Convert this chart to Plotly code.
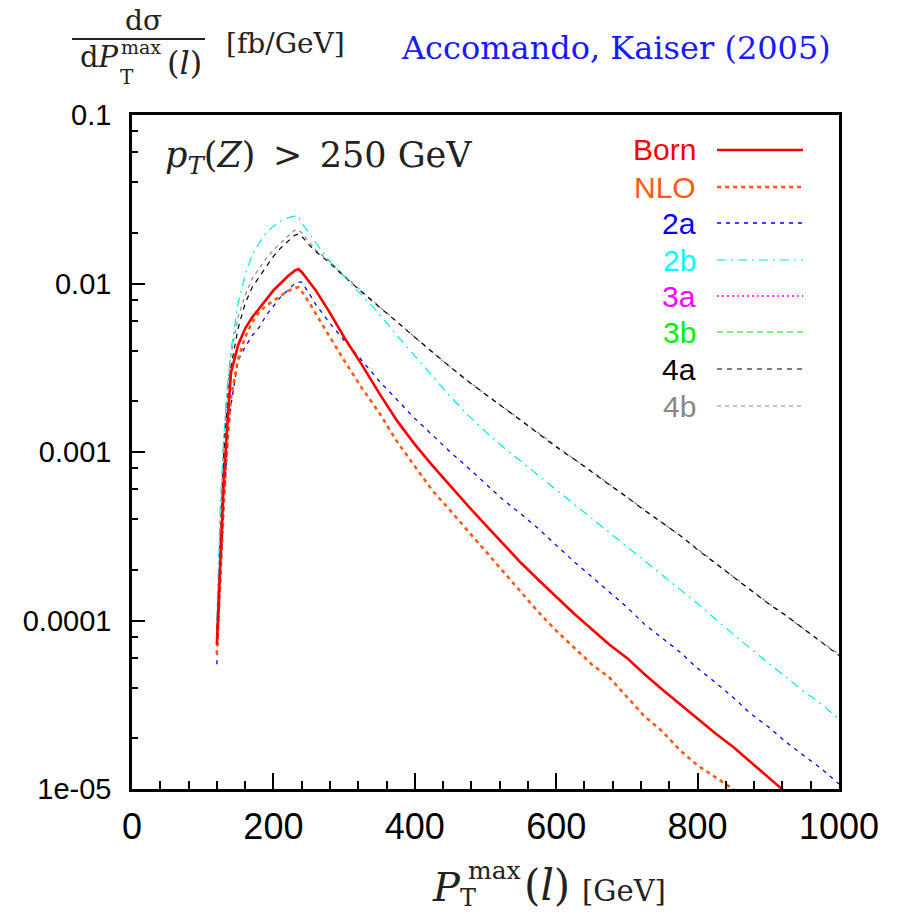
import plotly.graph_objects as go

# ---------------- data ----------------
pt = [120, 125, 130, 135, 140, 150, 160, 170, 180, 190, 200, 210, 220, 230, 235, 240,
      250, 260, 280, 300, 325, 350, 375, 400, 425, 450, 475, 500, 525, 550, 575, 600,
      625, 650, 675, 700, 725, 750, 775, 800, 825, 850, 875, 900, 925, 950, 975, 1000]

born = [7.2e-5, 2.5e-4, 7.1e-4, 1.5e-3, 2.95e-3, 4.3e-3, 5.4e-3, 6.3e-3, 7.1e-3, 8.1e-3,
        9.1e-3, 0.0100, 0.0110, 0.0119, 0.0122, 0.0117, 0.0104, 0.0091, 0.0067, 0.0048,
        0.0033, 2.22e-3, 1.53e-3, 1.11e-3, 8.3e-4, 6.3e-4, 4.8e-4, 3.7e-4, 2.85e-4, 2.2e-4,
        1.74e-4, 1.38e-4, 1.10e-4, 8.9e-5, 7.2e-5, 6.0e-5, 4.8e-5, 3.9e-5, 3.2e-5, 2.6e-5,
        2.14e-5, 1.78e-5, 1.45e-5, 1.17e-5, 9.5e-6, 7.8e-6, 6.3e-6, 5.1e-6]

nlo = [6.3e-5, 1.78e-4, 5.0e-4, 1.12e-3, 2.1e-3, 3.55e-3, 4.8e-3, 5.9e-3, 6.8e-3, 7.4e-3,
       7.9e-3, 8.5e-3, 9.0e-3, 9.4e-3, 9.5e-3, 9.0e-3, 7.8e-3, 6.6e-3, 4.8e-3, 3.5e-3,
       2.4e-3, 1.70e-3, 1.15e-3, 8.3e-4, 5.9e-4, 4.5e-4, 3.4e-4, 2.6e-4, 1.95e-4, 1.48e-4,
       1.12e-4, 8.7e-5, 6.9e-5, 5.5e-5, 4.6e-5, 3.55e-5, 2.7e-5, 2.2e-5, 1.7e-5, 1.38e-5,
       1.17e-5, 1.0e-5, 8.0e-6, 6.3e-6, 5.0e-6, 4.0e-6, 3.2e-6, 2.5e-6]

s2a = [5.5e-5, 1.78e-4, 5.0e-4, 1.12e-3, 1.9e-3, 3.5e-3, 4.2e-3, 4.9e-3, 5.5e-3, 6.5e-3,
       7.4e-3, 8.3e-3, 9.1e-3, 0.0100, 0.0102, 0.0102, 8.8e-3, 7.5e-3, 5.8e-3, 4.6e-3,
       3.5e-3, 2.63e-3, 2.04e-3, 1.58e-3, 1.26e-3, 1.0e-3, 8.1e-4, 6.5e-4, 5.2e-4, 4.3e-4,
       3.5e-4, 2.8e-4, 2.24e-4, 1.82e-4, 1.48e-4, 1.2e-4, 9.5e-5, 7.9e-5, 6.5e-5, 5.2e-5,
       4.3e-5, 3.5e-5, 2.8e-5, 2.34e-5, 1.9e-5, 1.58e-5, 1.32e-5, 1.07e-5]

s2b = [1.0e-4, 5.0e-4, 1.26e-3, 2.5e-3, 4.0e-3, 7.6e-3, 0.0112, 0.0148, 0.0174, 0.0200,
       0.0219, 0.0234, 0.0245, 0.0251, 0.0251, 0.0229, 0.0200, 0.0174, 0.0135, 0.0110,
       8.5e-3, 6.6e-3, 4.9e-3, 3.7e-3, 2.8e-3, 2.14e-3, 1.66e-3, 1.32e-3, 1.07e-3, 8.8e-4,
       7.25e-4, 6.0e-4, 4.95e-4, 4.07e-4, 3.35e-4, 2.75e-4, 2.27e-4, 1.86e-4, 1.53e-4, 1.26e-4,
       1.02e-4, 8.3e-5, 6.8e-5, 5.6e-5, 4.6e-5, 3.8e-5, 3.2e-5, 2.6e-5]

s3a = [7.2e-5, 2.5e-4, 7.1e-4, 1.5e-3, 2.95e-3, 4.3e-3, 5.4e-3, 6.3e-3, 7.1e-3, 8.1e-3,
       9.2e-3, 0.0101, 0.0111, 0.0120, 0.0123, 0.0118, 0.0104, 0.0091, 0.0067, 0.0048,
       0.0033, 2.22e-3, 1.53e-3, 1.11e-3, 8.3e-4, 6.3e-4, 4.8e-4, 3.7e-4, 2.85e-4, 2.2e-4,
       1.74e-4, 1.38e-4, 1.10e-4, 8.9e-5, 7.2e-5, 6.0e-5, 4.8e-5, 3.9e-5, 3.2e-5, 2.6e-5,
       2.14e-5, 1.78e-5, 1.45e-5, 1.17e-5, 9.5e-6, 7.8e-6, 6.3e-6, 5.1e-6]

s3b = [7.1e-5, 2.5e-4, 7.0e-4, 1.5e-3, 2.9e-3, 4.3e-3, 5.4e-3, 6.3e-3, 7.0e-3, 8.0e-3,
       9.0e-3, 9.9e-3, 0.0109, 0.0118, 0.0121, 0.0116, 0.0103, 0.0090, 0.0066, 0.0048,
       0.0033, 2.22e-3, 1.53e-3, 1.11e-3, 8.3e-4, 6.3e-4, 4.8e-4, 3.7e-4, 2.85e-4, 2.2e-4,
       1.74e-4, 1.38e-4, 1.10e-4, 8.9e-5, 7.2e-5, 6.0e-5, 4.8e-5, 3.9e-5, 3.2e-5, 2.6e-5,
       2.14e-5, 1.78e-5, 1.45e-5, 1.17e-5, 9.5e-6, 7.8e-6, 6.3e-6, 5.1e-6]

s4a = [7.9e-5, 3.2e-4, 1.0e-3, 2.0e-3, 3.2e-3, 5.4e-3, 7.6e-3, 9.5e-3, 0.0110, 0.0126,
       0.0145, 0.0162, 0.0178, 0.0193, 0.0197, 0.0191, 0.0170, 0.0155, 0.0132, 0.0110,
       8.9e-3, 7.2e-3, 5.9e-3, 4.8e-3, 3.9e-3, 3.2e-3, 2.63e-3, 2.19e-3, 1.84e-3, 1.54e-3,
       1.29e-3, 1.07e-3, 9.1e-4, 7.6e-4, 6.4e-4, 5.4e-4, 4.5e-4, 3.8e-4, 3.2e-4, 2.63e-4,
       2.19e-4, 1.82e-4, 1.51e-4, 1.26e-4, 1.07e-4, 8.9e-5, 7.4e-5, 6.2e-5]

s4b = [8.9e-5, 4.0e-4, 1.2e-3, 2.4e-3, 3.8e-3, 6.3e-3, 8.5e-3, 0.0107, 0.0123, 0.0141,
       0.0158, 0.0174, 0.0190, 0.0207, 0.0209, 0.0200, 0.0178, 0.0158, 0.0135, 0.0112,
       9.0e-3, 7.3e-3, 5.9e-3, 4.8e-3, 3.9e-3, 3.2e-3, 2.65e-3, 2.2e-3, 1.85e-3, 1.55e-3,
       1.30e-3, 1.08e-3, 9.1e-4, 7.7e-4, 6.45e-4, 5.4e-4, 4.5e-4, 3.8e-4, 3.2e-4, 2.65e-4,
       2.2e-4, 1.82e-4, 1.52e-4, 1.27e-4, 1.07e-4, 8.9e-5, 7.5e-5, 6.3e-5]

series_names = ["Born", "NLO", "2a", "2b", "3a", "3b", "4a", "4b"]
x_tickvals = [0, 200, 400, 600, 800, 1000]
y_tickvals = [1e-5, 1e-4, 1e-3, 1e-2, 1e-1]
y_ticktext = ["1e-05", "0.0001", "0.001", "0.01", "0.1"]
y_minorvals = [m * d for d in [1e-5, 1e-4, 1e-3, 1e-2] for m in (2, 4, 6, 8)]

# ---------------- styles ----------------
styles = {
    "Born": dict(color="#ff0000", width=2.6, dash="solid"),
    "NLO": dict(color="#ff5a14", width=2.6, dash="4px,4px"),
    "2a": dict(color="#0000ff", width=1.3, dash="4px,5px"),
    "2b": dict(color="#00e8e8", width=1.2, dash="9px,5px,2px,5px"),
    "3a": dict(color="#ff00ff", width=1.4, dash="2px,3px"),
    "3b": dict(color="#00e000", width=1.2, dash="6px,4px"),
    "4a": dict(color="#000000", width=1.2, dash="5px,5px"),
    "4b": dict(color="#888888", width=1.2, dash="4px,4px"),
}
text_colors = {"Born": "#ff0000", "NLO": "#ff5a14", "2a": "#0000ff", "2b": "#00ffff",
               "3a": "#ff00ff", "3b": "#00ee00", "4a": "#000000", "4b": "#888888"}
data = {"Born": born, "NLO": nlo, "2a": s2a, "2b": s2b, "3a": s3a, "3b": s3b,
        "4a": s4a, "4b": s4b}

fig = go.Figure()
for name in ["4b", "4a", "3b", "3a", "2b", "2a", "NLO", "Born"]:
    fig.add_trace(go.Scatter(x=pt, y=data[name], mode="lines", name=name,
                             line=styles[name], showlegend=False))

W, H = 903, 915
L, R, T, B = 132, 839, 115, 789


def px(xp):
    return (xp - L) / (R - L)


def py(yp):
    return (B - yp) / (B - T)


serif = "DejaVu Serif"
sans = "Liberation Sans, Arial"
ink = "#222222"
ann = []
shapes = []

# legend (text on the left, sample line on the right)
rows = [150, 187, 223, 260, 296, 332, 369, 406]
for name, yy in zip(series_names, rows):
    ann.append(dict(text=name, x=px(698), y=py(yy), xanchor="right", yanchor="middle",
                    font=dict(family=sans, size=30, color=text_colors[name])))
    st = styles[name]
    shapes.append(dict(type="line", xref="paper", yref="paper",
                       x0=px(717), x1=px(803), y0=py(yy), y1=py(yy),
                       line=dict(color=st["color"], width=st["width"], dash=st["dash"])))

# inner label
ann.append(dict(text="<i>p</i><sub><i>T</i></sub>(<i>Z</i>)\u2002&gt;\u2002250 GeV",
                x=px(163), y=py(157), xanchor="left", yanchor="middle",
                font=dict(family=serif, size=35, color=ink)))

# y-axis label as a fraction
ann += [
    dict(text="dσ", x=px(143), y=py(21), xanchor="center", yanchor="middle",
         font=dict(family=serif, size=28, color=ink)),
    dict(text="d<i>P</i>", x=px(121), y=py(57), xanchor="right", yanchor="middle",
         font=dict(family=serif, size=29, color=ink)),
    dict(text="max", x=px(119), y=py(47), xanchor="left", yanchor="middle",
         font=dict(family=serif, size=19, color=ink)),
    dict(text="T", x=px(118), y=py(77), xanchor="left", yanchor="middle",
         font=dict(family=serif, size=20, color=ink)),
    dict(text="(<i>l</i>)", x=px(165), y=py(63), xanchor="left", yanchor="middle",
         font=dict(family=serif, size=32, color=ink)),
    dict(text="[fb/GeV]", x=px(285), y=py(43), xanchor="center", yanchor="middle",
         font=dict(family=serif, size=28, color=ink)),
    dict(text="Accomando, Kaiser (2005)", x=px(616), y=py(48), xanchor="center",
         yanchor="middle", font=dict(family=serif, size=32, color="#1a1aff")),
]
shapes.append(dict(type="line", xref="paper", yref="paper", x0=px(72), x1=px(205),
                   y0=py(39), y1=py(39), line=dict(color=ink, width=2)))

# x-axis title
ann += [
    dict(text="<i>P</i>", x=px(446), y=py(887), xanchor="center", yanchor="middle",
         font=dict(family=serif, size=40, color=ink)),
    dict(text="max", x=px(466), y=py(870), xanchor="left", yanchor="middle",
         font=dict(family=serif, size=25, color=ink)),
    dict(text="T", x=px(458), y=py(898), xanchor="left", yanchor="middle",
         font=dict(family=serif, size=24, color=ink)),
    dict(text="(<i>l</i>)", x=px(522), y=py(885), xanchor="left", yanchor="middle",
         font=dict(family=serif, size=42, color=ink)),
    dict(text="[GeV]", x=px(580), y=py(891), xanchor="left", yanchor="middle",
         font=dict(family=serif, size=29, color=ink)),
]
for a in ann:
    a.setdefault("xref", "paper")
    a.setdefault("yref", "paper")
    a.setdefault("showarrow", False)

fig.update_layout(
    width=W, height=H,
    margin=dict(l=L, r=W - R, t=T, b=H - B),
    paper_bgcolor="white", plot_bgcolor="white",
    annotations=ann, shapes=shapes, showlegend=False,
    xaxis=dict(range=[0, 1000], tickmode="array", tickvals=x_tickvals,
               ticks="inside", ticklen=16, tickwidth=2, tickcolor="black",
               minor=dict(tickmode="linear", tick0=0, dtick=40, ticks="inside",
                          ticklen=8, tickwidth=2, tickcolor="black"),
               showline=True, linewidth=2.5, linecolor="black", mirror=True,
               showgrid=False, zeroline=False, ticklabelstandoff=4,
               tickfont=dict(family=sans, size=36, color="black")),
    yaxis=dict(type="log", range=[-5, -1], tickmode="array", tickvals=y_tickvals,
               ticktext=y_ticktext, ticks="inside", ticklen=13, tickwidth=2,
               tickcolor="black",
               minor=dict(tickmode="array", tickvals=y_minorvals, ticks="inside",
                          ticklen=6, tickwidth=2, tickcolor="black"),
               showline=True, linewidth=2.5, linecolor="black", mirror=True,
               showgrid=False, zeroline=False, ticklabelstandoff=12,
               tickfont=dict(family=sans, size=29, color="black")),
)

fig.write_html("out.html")
